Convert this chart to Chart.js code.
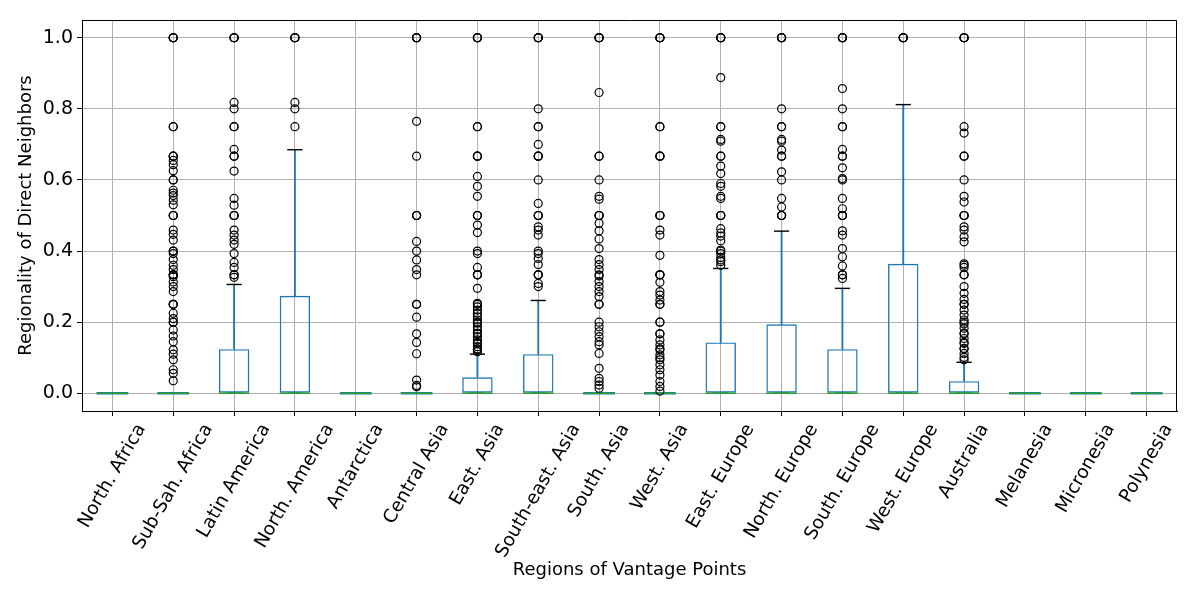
<!DOCTYPE html>
<html lang="en">
<head>
    <meta charset="UTF-8">
    <title>Regionality of Direct Neighbors</title>
    <script src="https://cdn.jsdelivr.net/npm/chart.js"></script>
    <style>
        html, body { margin: 0; padding: 0; background: #fff; }
        #wrap { width: 1200px; height: 600px; }
    </style>
</head>
<body>
    <div id="wrap"><canvas id="boxChart" width="1200" height="600"></canvas></div>

    <script>
        // regions on the x axis
        const regions = ['North. Africa', 'Sub-Sah. Africa', 'Latin America', 'North. America', 'Antarctica',
            'Central Asia', 'East. Asia', 'South-east. Asia', 'South. Asia', 'West. Asia', 'East. Europe',
            'North. Europe', 'South. Europe', 'West. Europe', 'Australia', 'Melanesia', 'Micronesia', 'Polynesia'];

        // box statistics, one value per region
        const whiskerLo = [0, 0, 0, 0, 0, 0, 0, 0, 0, 0, 0, 0, 0, 0, 0, 0, 0, 0];
        const q1 = [0, 0, 0, 0, 0, 0, 0, 0, 0, 0, 0, 0, 0, 0, 0, 0, 0, 0];
        const medians = [0, 0, 0, 0, 0, 0, 0, 0, 0, 0, 0, 0, 0, 0, 0, 0, 0, 0];
        const q3 = [0, 0, 0.124, 0.274, 0, 0, 0.045, 0.110, 0, 0, 0.143, 0.194, 0.124, 0.364, 0.034, 0, 0, 0];
        const whiskerHi = [0, 0, 0.306, 0.685, 0, 0, 0.110, 0.261, 0, 0, 0.351, 0.456, 0.295, 0.812, 0.087, 0, 0, 0];

        // fliers per region (repeated values are the stacked, darker circles)
        const outliers = [
            [],
            [1, 1, 1, 1, 0.75, 0.75, 0.667, 0.667, 0.667, 0.655, 0.643, 0.626, 0.6, 0.6, 0.571, 0.563, 0.556, 0.543, 0.53, 0.5, 0.5, 0.5, 0.459, 0.447, 0.431, 0.4, 0.4, 0.393, 0.376, 0.36, 0.348, 0.333, 0.333, 0.333, 0.328, 0.313, 0.3, 0.286, 0.25, 0.25, 0.25, 0.225, 0.21, 0.2, 0.2, 0.178, 0.161, 0.145, 0.122, 0.11, 0.094, 0.066, 0.056, 0.035],
            [1, 1, 1, 1, 0.818, 0.8, 0.75, 0.75, 0.686, 0.667, 0.667, 0.625, 0.548, 0.529, 0.5, 0.5, 0.5, 0.459, 0.445, 0.431, 0.419, 0.393, 0.368, 0.354, 0.333, 0.333, 0.326],
            [1, 1, 1, 1, 0.818, 0.8, 0.75],
            [],
            [1, 1, 1, 1, 0.765, 0.667, 0.5, 0.5, 0.5, 0.427, 0.4, 0.375, 0.348, 0.333, 0.25, 0.25, 0.214, 0.167, 0.143, 0.111, 0.037, 0.022, 0.018],
            [1, 1, 1, 1, 0.75, 0.75, 0.667, 0.667, 0.667, 0.61, 0.582, 0.554, 0.5, 0.5, 0.5, 0.473, 0.452, 0.4, 0.393, 0.354, 0.333, 0.333, 0.333, 0.295, 0.253, 0.25, 0.243, 0.234, 0.225, 0.215, 0.206, 0.2, 0.197, 0.187, 0.178, 0.169, 0.167, 0.159, 0.15, 0.143, 0.14, 0.131, 0.125, 0.122, 0.117],
            [1, 1, 1, 1, 0.8, 0.75, 0.75, 0.7, 0.667, 0.667, 0.667, 0.6, 0.534, 0.5, 0.5, 0.5, 0.468, 0.459, 0.445, 0.4, 0.393, 0.379, 0.362, 0.333, 0.333, 0.333, 0.309, 0.3],
            [1, 1, 1, 1, 0.846, 0.667, 0.667, 0.6, 0.554, 0.546, 0.5, 0.5, 0.5, 0.478, 0.457, 0.434, 0.407, 0.376, 0.362, 0.348, 0.333, 0.33, 0.314, 0.3, 0.286, 0.272, 0.25, 0.25, 0.2, 0.187, 0.173, 0.159, 0.145, 0.136, 0.112, 0.07, 0.042, 0.033, 0.023, 0.014],
            [1, 1, 1, 1, 0.75, 0.75, 0.667, 0.667, 0.667, 0.5, 0.5, 0.5, 0.459, 0.445, 0.388, 0.333, 0.333, 0.333, 0.312, 0.286, 0.276, 0.262, 0.25, 0.25, 0.2, 0.2, 0.167, 0.167, 0.15, 0.136, 0.125, 0.122, 0.108, 0.1, 0.094, 0.08, 0.066, 0.051, 0.033, 0.019, 0.006],
            [1, 1, 1, 1, 0.888, 0.75, 0.75, 0.714, 0.709, 0.667, 0.667, 0.639, 0.618, 0.59, 0.582, 0.554, 0.548, 0.5, 0.5, 0.5, 0.463, 0.451, 0.442, 0.429, 0.403, 0.4, 0.393, 0.382, 0.375, 0.37, 0.36],
            [1, 1, 1, 1, 0.8, 0.75, 0.75, 0.714, 0.709, 0.684, 0.667, 0.667, 0.623, 0.6, 0.548, 0.524, 0.5, 0.5, 0.5],
            [1, 1, 1, 1, 0.857, 0.8, 0.75, 0.75, 0.686, 0.667, 0.667, 0.634, 0.604, 0.6, 0.548, 0.519, 0.5, 0.5, 0.5, 0.457, 0.445, 0.407, 0.384, 0.358, 0.333, 0.333, 0.323],
            [1, 1, 1, 1],
            [1, 1, 1, 1, 0.75, 0.732, 0.667, 0.667, 0.6, 0.554, 0.538, 0.5, 0.5, 0.5, 0.468, 0.459, 0.44, 0.426, 0.364, 0.36, 0.354, 0.333, 0.333, 0.3, 0.281, 0.264, 0.25, 0.25, 0.234, 0.22, 0.206, 0.2, 0.195, 0.183, 0.169, 0.167, 0.154, 0.143, 0.14, 0.126, 0.125, 0.112, 0.101, 0.094],
            [],
            [],
            []
        ];

        const yTicks = [0, 0.2, 0.4, 0.6, 0.8, 1.0];

        const boxColor = '#1f77b4';
        const medianColor = '#2ca02c';
        const xTickFont = 18.5;
        const yTickFont = 19;
        const labelFont = 18;

        // build the datasets from the arrays above
        const boxData = regions.map((_, i) => q3[i] > q1[i] ? [q1[i], q3[i]] : null);
        // boxes with q1 == q3 collapse to a single blue edge
        const flatBoxes = regions.map((_, i) => q3[i] > q1[i] ? null : q1[i]);
        const upperWhisker = regions.map((_, i) => whiskerHi[i] > q3[i] ? [q3[i], whiskerHi[i]] : null);
        const lowerWhisker = regions.map((_, i) => q1[i] > whiskerLo[i] ? [whiskerLo[i], q1[i]] : null);
        const fliers = [];
        outliers.forEach((vals, i) => vals.forEach(v => fliers.push({ x: regions[i], y: v })));

        // rotated x labels centred under each tick (matplotlib style) + top/right frame
        const framePlugin = {
            id: 'frameAndLabels',
            afterDraw(chart) {
                const { ctx, chartArea: a } = chart;
                const xs = chart.scales.x;
                const angle = 60 * Math.PI / 180;
                ctx.save();
                ctx.strokeStyle = '#000';
                ctx.lineWidth = 1;
                ctx.beginPath();
                ctx.moveTo(Math.round(a.left) + 0.5, Math.round(a.top) + 0.5);
                ctx.lineTo(Math.round(a.right) - 0.5, Math.round(a.top) + 0.5);
                ctx.lineTo(Math.round(a.right) - 0.5, Math.round(a.bottom) + 0.5);
                ctx.stroke();

                ctx.font = xTickFont + 'px "DejaVu Sans"';
                ctx.fillStyle = '#000';
                ctx.textAlign = 'center';
                ctx.textBaseline = 'middle';
                const top = xs.top + 10;
                regions.forEach((label, i) => {
                    const w = ctx.measureText(label).width;
                    const boxH = w * Math.sin(angle) + xTickFont * Math.cos(angle);
                    ctx.save();
                    ctx.translate(xs.getPixelForTick(i), top + boxH / 2);
                    ctx.rotate(-angle);
                    ctx.fillText(label, 0, 0);
                    ctx.restore();
                });
                ctx.restore();
            }
        };

        const ctx = document.getElementById('boxChart').getContext('2d');
        new Chart(ctx, {
            type: 'bar',
            data: {
                labels: regions,
                datasets: [
                    {
                        type: 'line', label: 'fliers', data: fliers, showLine: false, order: 0,
                        pointStyle: 'circle', pointRadius: 4, pointBorderWidth: 1.2,
                        pointBorderColor: '#000', pointBackgroundColor: 'rgba(0,0,0,0)'
                    },
                    {
                        type: 'line', label: 'medians', data: medians, showLine: false, order: 1,
                        pointStyle: 'line', pointRadius: 15.2, pointBorderWidth: 1.4,
                        pointBorderColor: medianColor
                    },
                    {
                        type: 'bar', label: 'boxes', data: boxData, order: 2, grouped: false,
                        categoryPercentage: 1.0, barPercentage: 0.5,
                        backgroundColor: 'rgba(0,0,0,0)', borderColor: boxColor,
                        borderWidth: 1.4, borderSkipped: false
                    },
                    {
                        type: 'line', label: 'flat boxes', data: flatBoxes, showLine: false, order: 2,
                        pointStyle: 'line', pointRadius: 15.9, pointBorderWidth: 2.6,
                        pointBorderColor: boxColor
                    },
                    {
                        type: 'line', label: 'caps hi', data: whiskerHi, showLine: false, order: 3,
                        pointStyle: 'line', pointRadius: 7.6, pointBorderWidth: 1.4, pointBorderColor: '#000'
                    },
                    {
                        type: 'line', label: 'caps lo', data: whiskerLo, showLine: false, order: 3,
                        pointStyle: 'line', pointRadius: 7.6, pointBorderWidth: 1.4, pointBorderColor: '#000'
                    },
                    {
                        type: 'bar', label: 'whisker hi', data: upperWhisker, order: 4, grouped: false,
                        barThickness: 1.2, backgroundColor: boxColor, borderWidth: 0
                    },
                    {
                        type: 'bar', label: 'whisker lo', data: lowerWhisker, order: 4, grouped: false,
                        barThickness: 1.2, backgroundColor: boxColor, borderWidth: 0
                    }
                ]
            },
            options: {
                responsive: false,
                animation: false,
                devicePixelRatio: 1,
                events: [],
                layout: { padding: { left: 0, right: 23, top: 20, bottom: 0 } },
                plugins: {
                    legend: { display: false },
                    tooltip: { enabled: false }
                },
                scales: {
                    x: {
                        type: 'category',
                        offset: true,
                        grid: { offset: false, color: '#b0b0b0', lineWidth: 1, tickColor: '#000', tickLength: 5 },
                        border: { color: '#000', width: 1 },
                        ticks: { display: false },
                        title: {
                            display: true, text: 'Regions of Vantage Points', color: '#000',
                            font: { family: 'DejaVu Sans', size: labelFont }, padding: { top: 0, bottom: 19 }
                        },
                        afterFit: (s) => { s.height = 189; }
                    },
                    y: {
                        min: -0.05,
                        max: 1.05,
                        afterBuildTicks: (s) => { s.ticks = yTicks.map(v => ({ value: v })); },
                        grid: { color: '#b0b0b0', lineWidth: 1, tickColor: '#000', tickLength: 5 },
                        border: { color: '#000', width: 1 },
                        ticks: {
                            color: '#000', padding: 4,
                            font: { family: 'DejaVu Sans', size: yTickFont },
                            callback: (v) => Number(v).toFixed(1)
                        },
                        title: {
                            display: true, text: 'Regionality of Direct Neighbors', color: '#000',
                            font: { family: 'DejaVu Sans', size: labelFont }, padding: { top: 16, bottom: 0 }
                        },
                        afterFit: (s) => { s.width = 82; }
                    }
                }
            },
            plugins: [framePlugin]
        });
    </script>
</body>
</html>
